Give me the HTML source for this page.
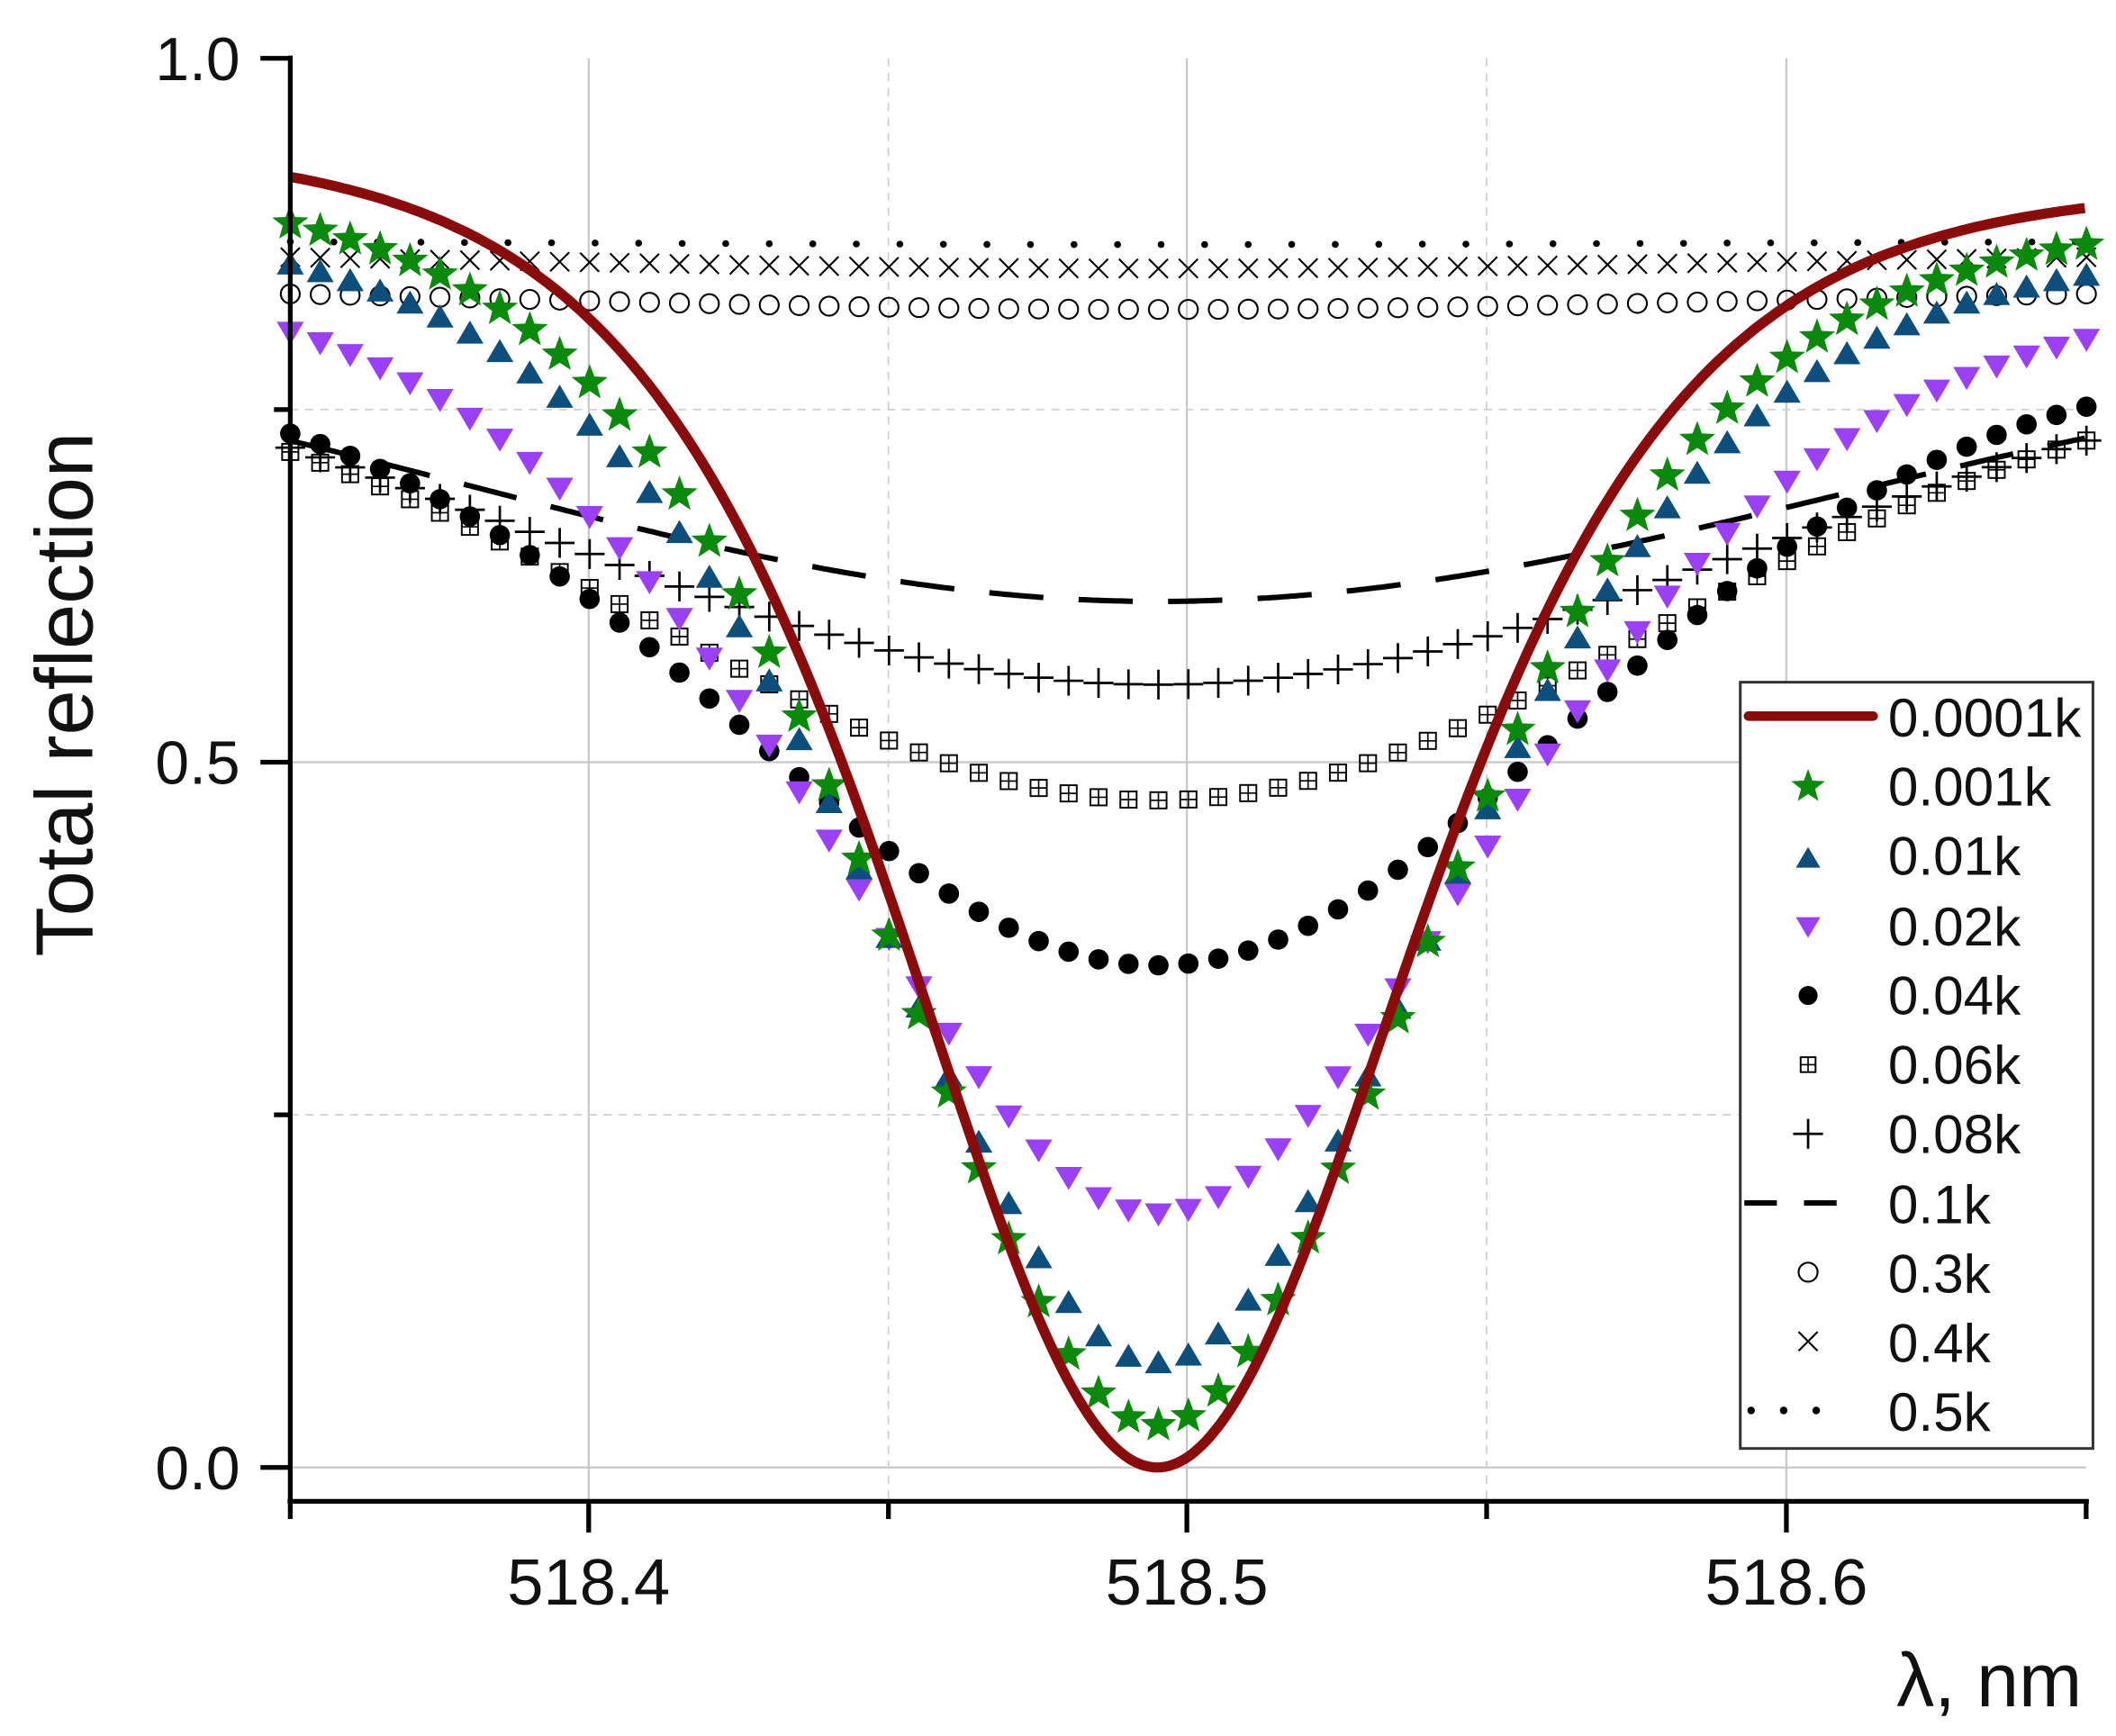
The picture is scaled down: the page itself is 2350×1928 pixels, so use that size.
<!DOCTYPE html>
<html><head><meta charset="utf-8"><style>
html,body{margin:0;padding:0;background:#fff}
svg{display:block}
text{font-family:"Liberation Sans",Arial,sans-serif;fill:#111}
</style></head><body>
<svg id="s" width="2350" height="1928" viewBox="0 0 1560 1280" preserveAspectRatio="none" xmlns="http://www.w3.org/2000/svg">
<rect width="1560" height="1280" fill="#fff"/>
<g stroke="#c8c8c8" stroke-width="1.5">
<line x1="434" y1="43" x2="434" y2="1107"/>
<line x1="875" y1="43" x2="875" y2="1107"/>
<line x1="1317" y1="43" x2="1317" y2="1107"/>
<line x1="214" y1="562" x2="1538" y2="562"/>
<line x1="214" y1="1082" x2="1538" y2="1082"/>
</g>
<g stroke="#d0d0d0" stroke-width="1.2" stroke-dasharray="6,5">
<line x1="655" y1="43" x2="655" y2="1107"/>
<line x1="1096" y1="43" x2="1096" y2="1107"/>
<line x1="214" y1="302" x2="1538" y2="302"/>
<line x1="214" y1="822" x2="1538" y2="822"/>
</g>
<g id="data"></g>
<g stroke="#000" stroke-width="3.5" fill="none">
<line x1="214" y1="41" x2="214" y2="1109"/>
<line x1="212" y1="1107" x2="1540" y2="1107"/>
<line x1="192" y1="43" x2="214" y2="43"/>
<line x1="202" y1="302" x2="214" y2="302"/>
<line x1="192" y1="562" x2="214" y2="562"/>
<line x1="202" y1="822" x2="214" y2="822"/>
<line x1="192" y1="1082" x2="214" y2="1082"/>
<line x1="214" y1="1107" x2="214" y2="1120"/>
<line x1="434" y1="1107" x2="434" y2="1130"/>
<line x1="655" y1="1107" x2="655" y2="1120"/>
<line x1="875" y1="1107" x2="875" y2="1130"/>
<line x1="1096" y1="1107" x2="1096" y2="1120"/>
<line x1="1317" y1="1107" x2="1317" y2="1130"/>
<line x1="1538" y1="1107" x2="1538" y2="1120"/>
</g>
<g font-size="45" text-anchor="end">
<text x="177" y="59">1.0</text>
<text x="177" y="578">0.5</text>
<text x="177" y="1098">0.0</text>
</g>
<g font-size="48" text-anchor="middle">
<text x="434" y="1183">518.4</text>
<text x="875" y="1183">518.5</text>
<text x="1317" y="1183">518.6</text>
</g>
<text x="1535" y="1258" font-size="56" text-anchor="end">λ, nm</text>
<text transform="translate(68,512) rotate(-90)" font-size="60" text-anchor="middle">Total reflection</text>
<g id="leg">
<rect x="1283" y="503" width="260" height="565" fill="#fff" stroke="#333" stroke-width="2"/>
<g font-size="40">
<text x="1392" y="543">0.0001k</text>
<text x="1392" y="594">0.001k</text>
<text x="1392" y="645">0.01k</text>
<text x="1392" y="697">0.02k</text>
<text x="1392" y="748">0.04k</text>
<text x="1392" y="799">0.06k</text>
<text x="1392" y="850">0.08k</text>
<text x="1392" y="902">0.1k</text>
<text x="1392" y="953">0.3k</text>
<text x="1392" y="1004">0.4k</text>
<text x="1392" y="1055">0.5k</text>
</g>
</g>
</svg>
<script>
var NS="http://www.w3.org/2000/svg";
function el(p,t,a){var e=document.createElementNS(NS,t);for(var k in a)e.setAttribute(k,a[k]);p.appendChild(e);return e;}
var C=853;
function Y(v){return 1082-1040*v;}
function shape(d,S){if(S[4]){var c=Math.cosh(d/S[3]);return 1/(c*c);}return Math.exp(-d*d/(2*S[3]*S[3]));}
function R(x,S){var d=x-C;var g=shape(d,S);var E=d<0?S[1]:S[2];var dE=d<0?639:685;var gE=shape(dE,S);return S[0]+(E-S[0])*(1-g)/(1-gE);}
var sRed=[0.0,0.915,0.893,250,1],sGr=[0.03,0.882,0.867,268,1],sBl=[0.074,0.853,0.845,279,1],sPu=[0.18,0.805,0.80,330,1],
sDo=[0.356,0.733,0.752,303],sSq=[0.473,0.72,0.728,370],sPl=[0.555,0.723,0.728,452],sDa=[0.614,0.728,0.73,501],
sCi=[0.821,0.832,0.832,450],sX=[0.85,0.858,0.858,450],sDt=[0.867,0.869,0.869,450];
var data=document.getElementById("data");
var STAR="#0a8a0a",BLUE="#0d4f7c",PUR="#9b40f8",RED="#8b0a0a";
function star(p,x,y,r,c){var pts=[];for(var i=0;i<10;i++){var a=-Math.PI/2+i*Math.PI/5,rr=i%2?r*0.42:r;pts.push((x+rr*Math.cos(a)).toFixed(1)+","+(y+rr*Math.sin(a)).toFixed(1));}el(p,"polygon",{points:pts.join(" "),fill:c});}
function tri(p,x,y,r,c,down){var s=down?-1:1;el(p,"polygon",{points:(x-r)+","+(y+s*r*0.75)+" "+(x+r)+","+(y+s*r*0.75)+" "+x+","+(y-s*r*0.95),fill:c});}
function sq(p,x,y,r){el(p,"rect",{x:x-r,y:y-r,width:2*r,height:2*r,fill:"none",stroke:"#000","stroke-width":1.3});el(p,"line",{x1:x-r,y1:y,x2:x+r,y2:y,stroke:"#000","stroke-width":1.1});el(p,"line",{x1:x,y1:y-r,x2:x,y2:y+r,stroke:"#000","stroke-width":1.1});}
function plus(p,x,y,r){el(p,"path",{d:"M"+(x-r)+" "+y+"H"+(x+r)+"M"+x+" "+(y-r)+"V"+(y+r),stroke:"#000","stroke-width":1.8});}
function cross(p,x,y,r){el(p,"path",{d:"M"+(x-r)+" "+(y-r)+"L"+(x+r)+" "+(y+r)+"M"+(x+r)+" "+(y-r)+"L"+(x-r)+" "+(y+r),stroke:"#000","stroke-width":1.4});}
function line(S,attrs){var d="";for(var x=214;x<=1538;x+=3){d+=(x==214?"M":"L")+x+" "+Y(R(x,S)).toFixed(1);}attrs.d=d;attrs.fill="none";el(data,"path",attrs);}
var step=22.07,xs=[];for(var i=0;i<61;i++){var x=214+i*step;if(x<=1539)xs.push(x);}
line(sDt,{stroke:"#000","stroke-width":5,"stroke-dasharray":"0.1,32","stroke-linecap":"round"});
xs.forEach(function(x){cross(data,x,Y(R(x,sX)),7);});
xs.forEach(function(x){el(data,"circle",{cx:x,cy:Y(R(x,sCi)),r:7,fill:"none",stroke:"#000","stroke-width":1.4});});
line(sDa,{stroke:"#000","stroke-width":4,"stroke-dasharray":"40,26"});
xs.forEach(function(x){plus(data,x,Y(R(x,sPl)),11);});
xs.forEach(function(x){sq(data,x,Y(R(x,sSq)),6);});
xs.forEach(function(x){el(data,"circle",{cx:x,cy:Y(R(x,sDo)),r:7.5,fill:"#000"});});
xs.forEach(function(x){tri(data,x,Y(R(x,sPu)),10,PUR,true);});
xs.forEach(function(x){tri(data,x,Y(R(x,sBl)),10,BLUE,false);});
xs.forEach(function(x){star(data,x,Y(R(x,sGr)),14,STAR);});
line(sRed,{stroke:RED,"stroke-width":7.5,"stroke-linejoin":"round"});
var L=document.getElementById("leg");
el(L,"line",{x1:1289,y1:528,x2:1381,y2:528,stroke:RED,"stroke-width":7,"stroke-linecap":"round"});
star(L,1333,580,13,STAR);
tri(L,1333,633,9,BLUE,false);
tri(L,1333,683,9,PUR,true);
el(L,"circle",{cx:1333,cy:734,r:7,fill:"#000"});
sq(L,1333,785,5.5);
plus(L,1333,836,11);
el(L,"path",{d:"M1286 887H1310M1330 887H1354",stroke:"#000","stroke-width":4});
el(L,"circle",{cx:1333,cy:938,r:7,fill:"none",stroke:"#000","stroke-width":1.4});
cross(L,1333,989,7);
[1291,1315,1339].forEach(function(x){el(L,"circle",{cx:x,cy:1040,r:2.8,fill:"#000"});});
</script>
</body></html>
